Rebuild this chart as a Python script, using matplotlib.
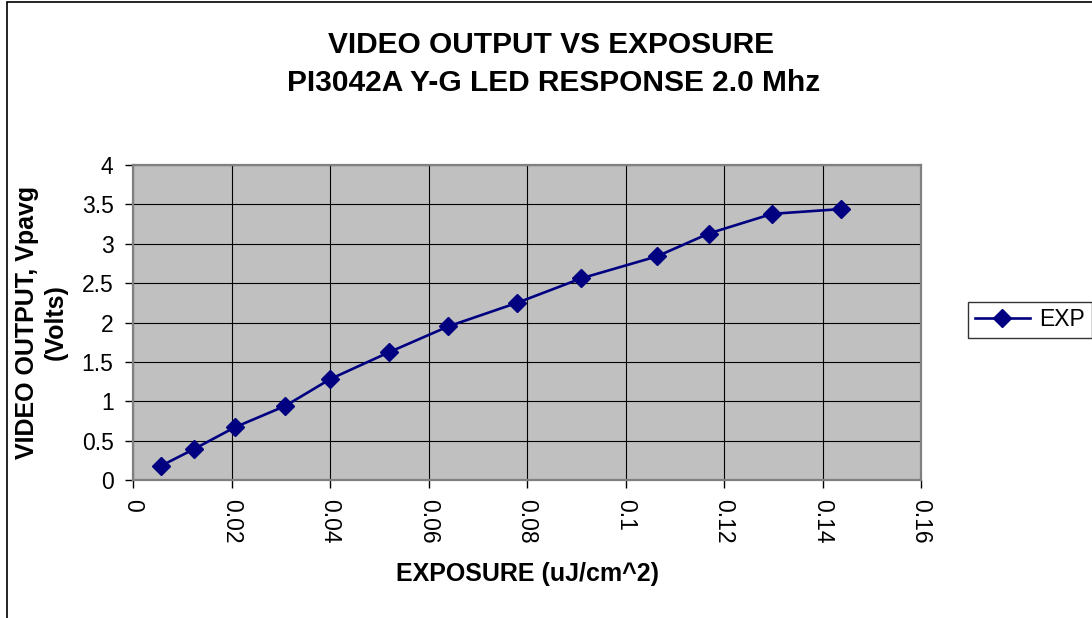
import matplotlib
matplotlib.use('Agg')
import matplotlib.pyplot as plt
from matplotlib.patches import Rectangle

plt.rcParams['font.family'] = ['Liberation Sans', 'DejaVu Sans']

# data
exposure = [0.0057, 0.0123, 0.0207, 0.0309, 0.0400, 0.0519, 0.0640,
            0.0780, 0.0910, 0.1064, 0.1169, 0.1298, 0.1437]
video_out = [0.18, 0.39, 0.67, 0.94, 1.28, 1.62, 1.95,
             2.25, 2.56, 2.84, 3.13, 3.38, 3.44]
x_ticks = [0, 0.02, 0.04, 0.06, 0.08, 0.1, 0.12, 0.14, 0.16]
x_labels = ['0', '0.02', '0.04', '0.06', '0.08', '0.1', '0.12', '0.14', '0.16']
y_ticks = [0, 0.5, 1, 1.5, 2, 2.5, 3, 3.5, 4]
y_labels = ['0', '0.5', '1', '1.5', '2', '2.5', '3', '3.5', '4']

W, H = 1092, 618
fig = plt.figure(figsize=(W / 100, H / 100), dpi=100)

# outer chart border (left and top visible, rest cropped)
fig.patches.append(Rectangle((7 / W, -0.1), 1.2, (H - 1.5) / H + 0.1,
                             transform=fig.transFigure, fill=False,
                             edgecolor='black', linewidth=1.2))

ax = fig.add_axes([133 / W, 1 - 480 / H, (921 - 133) / W, (480 - 165) / H])
ax.set_facecolor('#C0C0C0')
ax.plot(exposure, video_out, color='#000080', linewidth=1.9,
        marker='D', markersize=9, markerfacecolor='#000080',
        markeredgecolor='#000080', label='EXP', zorder=3)

ax.set_xlim(0, 0.16)
ax.set_ylim(0, 4)
ax.set_xticks(x_ticks)
ax.set_xticklabels(x_labels, rotation=-90, fontsize=16.5)
ax.set_yticks(y_ticks)
ax.set_yticklabels(y_labels, fontsize=16.5)
ax.tick_params(axis='both', direction='out', length=6, width=1,
               color='black', pad=8)
ax.grid(True, color='black', linewidth=0.8)
ax.set_axisbelow(True)
for s in ax.spines.values():
    s.set_color('#808080')
    s.set_linewidth(1.6)

# titles
fig.text(551 / W, 1 - 45 / H, 'VIDEO OUTPUT VS EXPOSURE', ha='center',
         va='center', fontsize=21.5, fontweight='bold')
fig.text(554 / W, 1 - 83 / H, 'PI3042A Y-G LED RESPONSE 2.0 Mhz', ha='center',
         va='center', fontsize=21.5, fontweight='bold')

# axis labels
fig.text(527 / W, 1 - 574 / H, 'EXPOSURE (uJ/cm^2)', ha='center', va='center',
         fontsize=18, fontweight='bold')
fig.text(27 / W, 1 - 322 / H, 'VIDEO OUTPUT, Vpavg', ha='center', va='center',
         rotation=90, fontsize=18, fontweight='bold')
fig.text(56 / W, 1 - 322 / H, '(Volts)', ha='center', va='center',
         rotation=90, fontsize=18, fontweight='bold')

leg = fig.legend(loc='center left', bbox_to_anchor=(968 / W, 1 - 320 / H),
                 fontsize=16.5, frameon=True, fancybox=False, handlelength=2.4,
                 borderpad=0.3, handletextpad=0.4, borderaxespad=0)
leg.get_frame().set_edgecolor('black')
leg.get_frame().set_linewidth(1)

fig.savefig('out.png', dpi=100)
